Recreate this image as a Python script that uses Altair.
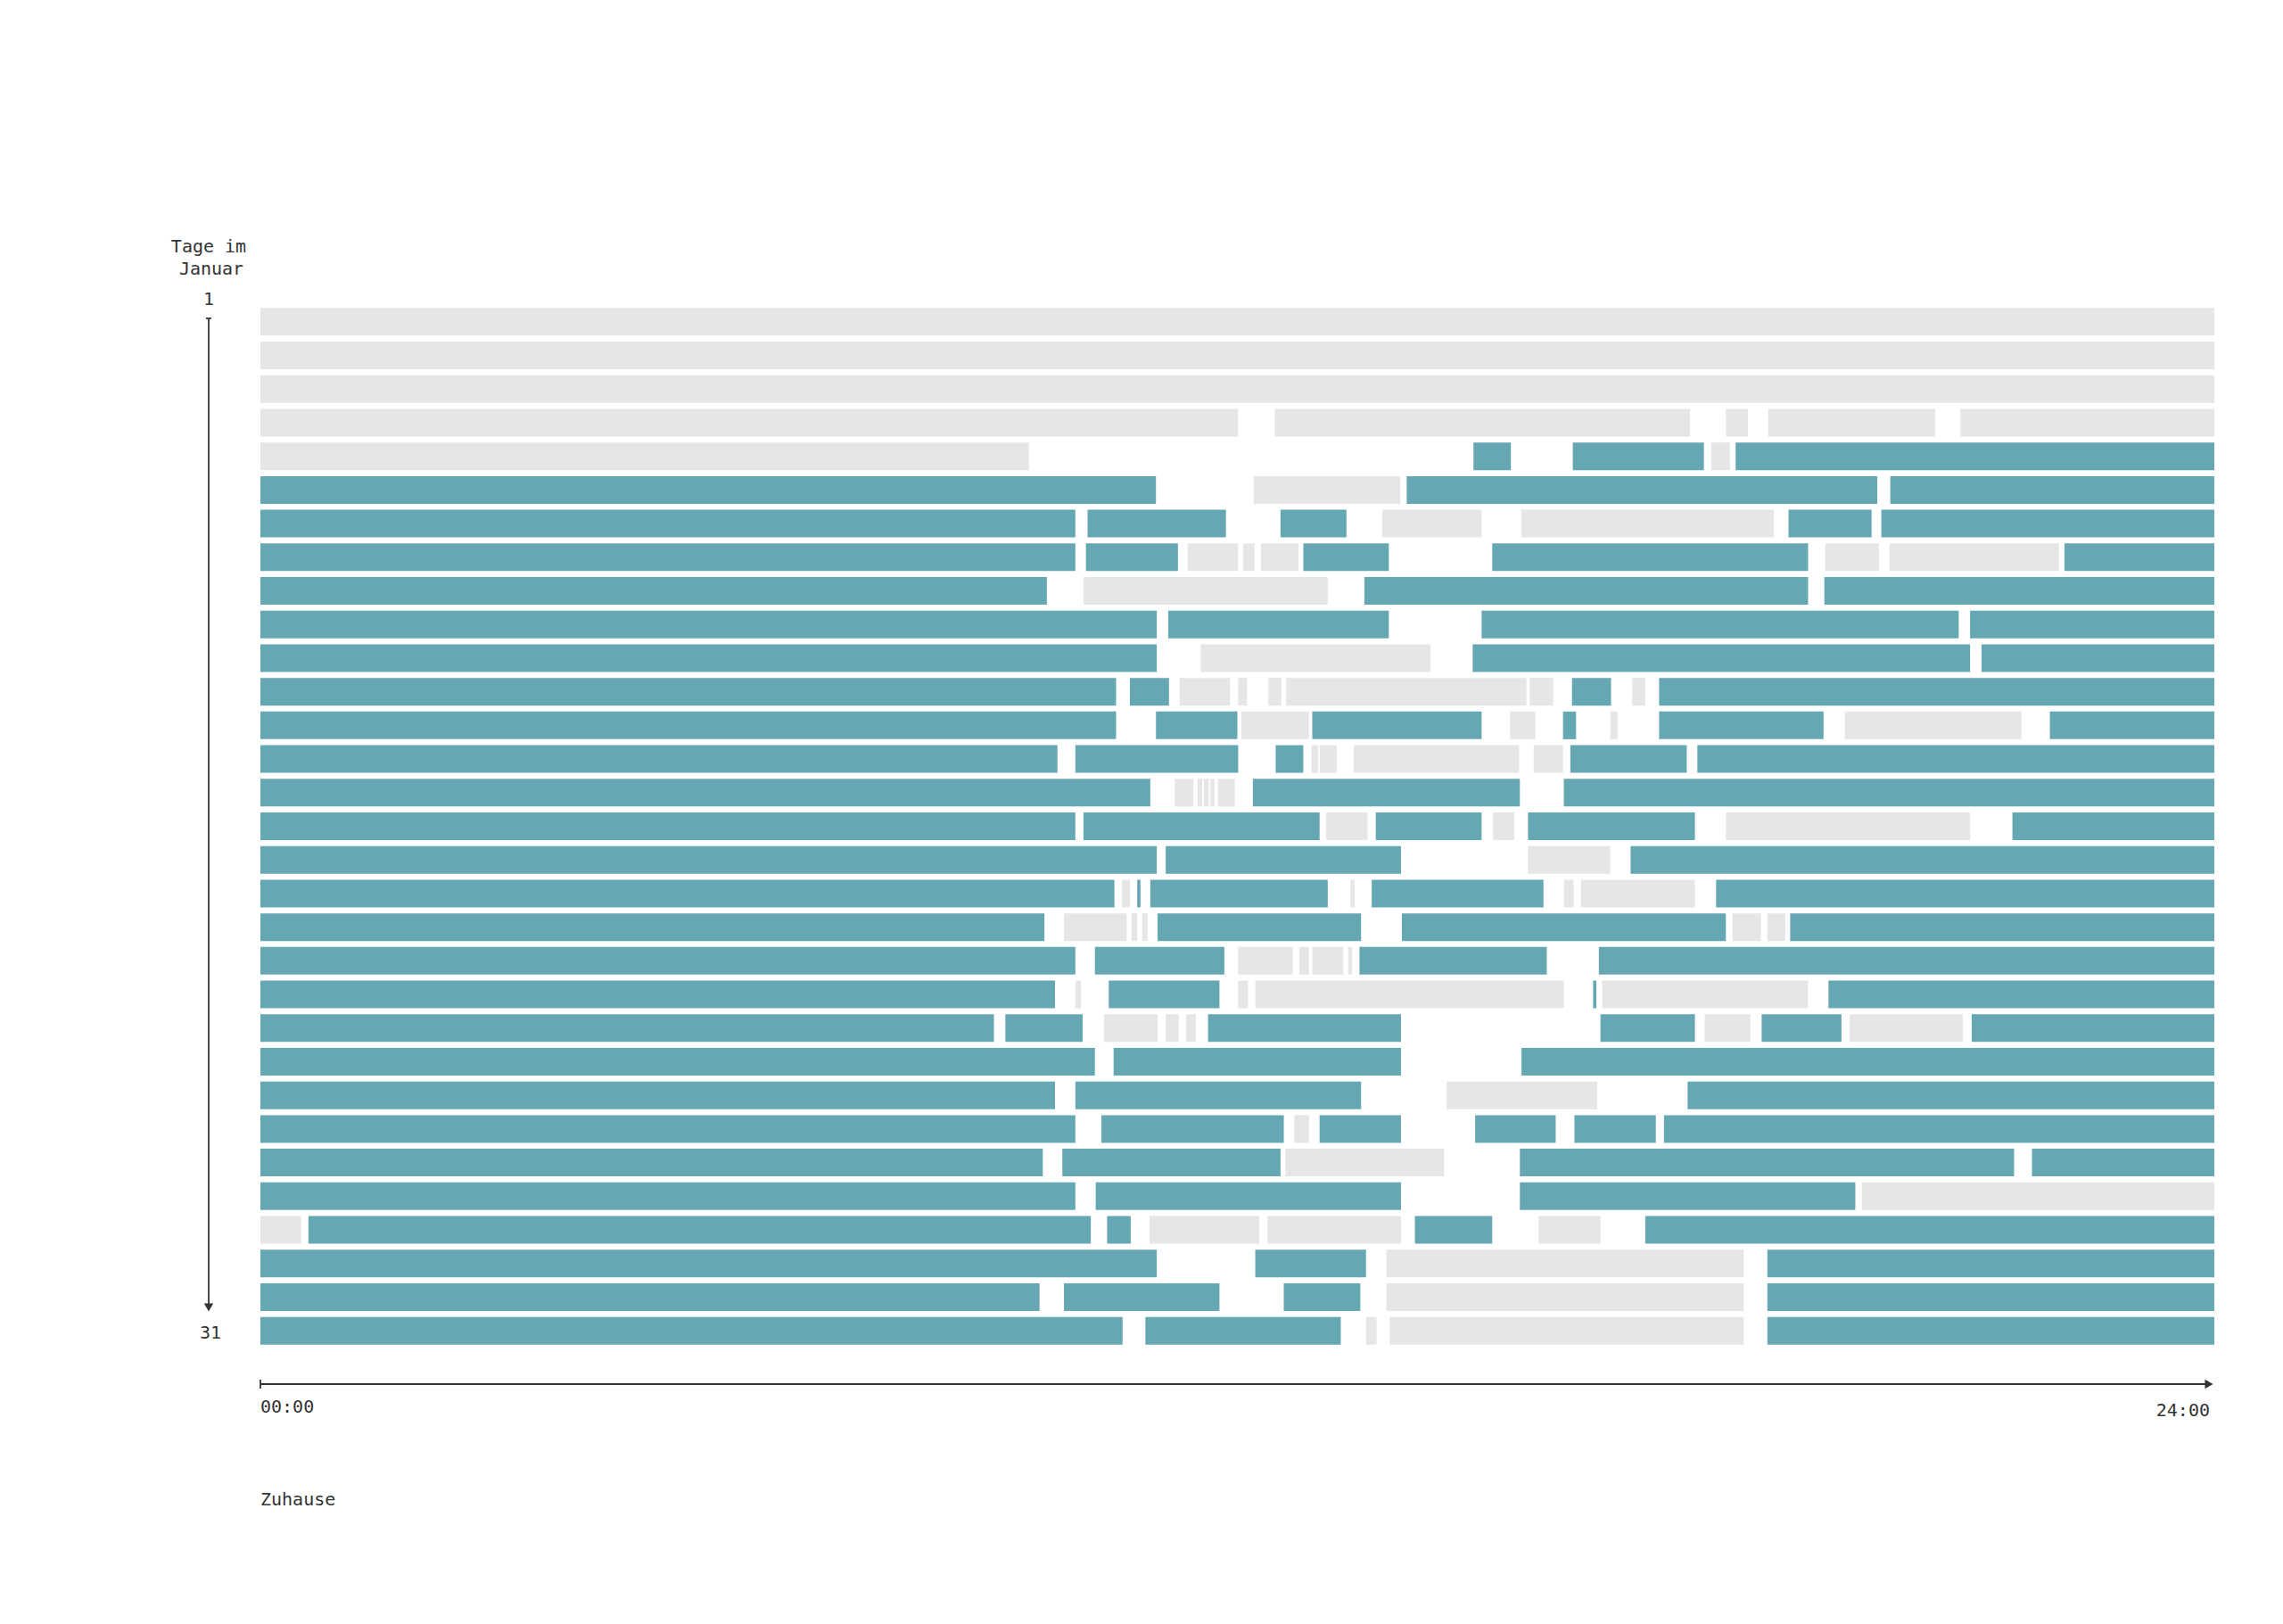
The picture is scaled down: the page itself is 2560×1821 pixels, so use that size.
import altair as alt
import pandas as pd

# ---- data: segments per day (start hour, end hour, place) ----
# Z = Zuhause (teal), A = anderswo (grey)
d01 = [(0, 24, "A")]
d02 = [(0, 24, "A")]
d03 = [(0, 24, "A")]
d04 = [(0, 12.01, "A"), (12.46, 17.56, "A"), (18.0, 18.27, "A"), (18.52, 20.57, "A"), (20.88, 24, "A")]
d05 = [(0, 9.44, "A"), (14.90, 15.36, "Z"), (16.12, 17.73, "Z"), (17.82, 18.05, "A"), (18.12, 24, "Z")]
d06 = [(0, 11.0, "Z"), (12.20, 14.0, "A"), (14.08, 19.86, "Z"), (20.02, 24, "Z")]
d07 = [(0, 10.01, "Z"), (10.16, 11.86, "Z"), (12.53, 13.34, "Z"), (13.78, 15.0, "A"), (15.49, 18.59, "A"),
       (18.77, 19.79, "Z"), (19.91, 24, "Z")]
d08 = [(0, 10.01, "Z"), (10.14, 11.27, "Z"), (11.39, 12.01, "A"), (12.07, 12.21, "A"), (12.29, 12.75, "A"),
       (12.81, 13.86, "Z"), (15.13, 19.01, "Z"), (19.22, 19.88, "A"), (20.01, 22.09, "A"), (22.16, 24, "Z")]
d09 = [(0, 9.66, "Z"), (10.11, 13.11, "A"), (13.56, 19.01, "Z"), (19.21, 24, "Z")]
d10 = [(0, 11.01, "Z"), (11.15, 13.86, "Z"), (15.0, 20.86, "Z"), (21.0, 24, "Z")]
d11 = [(0, 11.01, "Z"), (11.55, 14.37, "A"), (14.89, 21.0, "Z"), (21.14, 24, "Z")]
d12 = [(0, 10.51, "Z"), (10.68, 11.16, "Z"), (11.29, 11.91, "A"), (12.01, 12.12, "A"), (12.38, 12.54, "A"),
       (12.60, 15.55, "A"), (15.59, 15.88, "A"), (16.11, 16.59, "Z"), (16.85, 17.01, "A"), (17.18, 24, "Z")]
d13 = [(0, 10.51, "Z"), (11.0, 12.0, "Z"), (12.05, 12.88, "A"), (12.92, 15.0, "Z"), (15.35, 15.66, "A"),
       (16.0, 16.16, "Z"), (16.58, 16.67, "A"), (17.18, 19.2, "Z"), (19.46, 21.63, "A"), (21.98, 24, "Z")]
d14 = [(0, 9.79, "Z"), (10.01, 12.01, "Z"), (12.47, 12.81, "Z"), (12.91, 12.99, "A"), (13.01, 13.22, "A"),
       (13.43, 15.46, "A"), (15.64, 16.0, "A"), (16.09, 17.52, "Z"), (17.65, 24, "Z")]
d15 = [(0, 10.93, "Z"), (11.23, 11.46, "A"), (11.51, 11.57, "A"), (11.59, 11.65, "A"), (11.67, 11.72, "A"),
       (11.76, 11.97, "A"), (12.19, 15.47, "Z"), (16.01, 24, "Z")]
d16 = [(0, 10.01, "Z"), (10.11, 13.01, "Z"), (13.09, 13.6, "A"), (13.70, 15.0, "Z"), (15.14, 15.40, "A"),
       (15.57, 17.62, "Z"), (18.0, 21.0, "A"), (21.52, 24, "Z")]
d17 = [(0, 11.01, "Z"), (11.12, 14.01, "Z"), (15.57, 16.58, "A"), (16.83, 24, "Z")]
d18 = [(0, 10.49, "Z"), (10.58, 10.68, "A"), (10.77, 10.81, "Z"), (10.93, 13.11, "Z"), (13.39, 13.44, "A"),
       (13.65, 15.76, "Z"), (16.01, 16.13, "A"), (16.22, 17.62, "A"), (17.88, 24, "Z")]
d19 = [(0, 9.63, "Z"), (9.87, 10.64, "A"), (10.70, 10.77, "A"), (10.83, 10.90, "A"), (11.02, 13.52, "Z"),
       (14.02, 18.0, "Z"), (18.08, 18.43, "A"), (18.51, 18.73, "A"), (18.79, 24, "Z")]
d20 = [(0, 10.01, "Z"), (10.25, 11.84, "Z"), (12.01, 12.68, "A"), (12.76, 12.88, "A"), (12.92, 13.30, "A"),
       (13.36, 13.41, "A"), (13.50, 15.80, "Z"), (16.44, 24, "Z")]
d21 = [(0, 9.76, "Z"), (10.01, 10.08, "A"), (10.42, 11.78, "Z"), (12.01, 12.13, "A"), (12.22, 16.01, "A"),
       (16.37, 16.41, "Z"), (16.48, 19.01, "A"), (19.26, 24, "Z")]
d22 = [(0, 9.01, "Z"), (9.15, 10.10, "Z"), (10.36, 11.02, "A"), (11.12, 11.28, "A"), (11.37, 11.49, "A"),
       (11.64, 14.01, "Z"), (16.46, 17.62, "Z"), (17.74, 18.30, "A"), (18.44, 19.42, "Z"), (19.52, 20.91, "A"),
       (21.02, 24, "Z")]
d23 = [(0, 10.25, "Z"), (10.48, 14.01, "Z"), (15.49, 24, "Z")]
d24 = [(0, 9.76, "Z"), (10.01, 13.52, "Z"), (14.57, 16.42, "A"), (17.53, 24, "Z")]
d25 = [(0, 10.01, "Z"), (10.33, 12.57, "Z"), (12.70, 12.88, "A"), (13.01, 14.01, "Z"), (14.92, 15.91, "Z"),
       (16.14, 17.14, "Z"), (17.24, 24, "Z")]
d26 = [(0, 9.61, "Z"), (9.85, 12.53, "Z"), (12.59, 14.54, "A"), (15.47, 21.54, "Z"), (21.76, 24, "Z")]
d27 = [(0, 10.01, "Z"), (10.26, 14.01, "Z"), (15.47, 19.59, "Z"), (19.67, 24, "A")]
d28 = [(0, 0.50, "A"), (0.59, 10.20, "Z"), (10.40, 10.69, "Z"), (10.92, 12.27, "A"), (12.37, 14.01, "A"),
       (14.18, 15.13, "Z"), (15.70, 16.46, "A"), (17.01, 24, "Z")]
d29 = [(0, 11.01, "Z"), (12.22, 13.58, "Z"), (13.83, 18.22, "A"), (18.51, 24, "Z")]
d30 = [(0, 9.57, "Z"), (9.87, 11.78, "Z"), (12.57, 13.51, "Z"), (13.83, 18.22, "A"), (18.51, 24, "Z")]
d31 = [(0, 10.59, "Z"), (10.87, 13.27, "Z"), (13.58, 13.71, "A"), (13.87, 18.22, "A"), (18.51, 24, "Z")]

days = [d01, d02, d03, d04, d05, d06, d07, d08, d09, d10, d11, d12, d13, d14, d15, d16,
        d17, d18, d19, d20, d21, d22, d23, d24, d25, d26, d27, d28, d29, d30, d31]

place_names = {"Z": "Zuhause", "A": "Anderswo"}
x_labels = ["00:00", "24:00"]
y_title = ["Tage im", "Januar"]
y_labels = ["1", "31"]

rows = []
for i, segs in enumerate(days, start=1):
    for s, e, p in segs:
        rows.append({"day": i, "start": s, "end": e, "place": place_names[p]})
df = pd.DataFrame(rows)

TEAL = "#66a7b4"
GREY = "#e5e6e8"
INK = "#333333"
FONT = "DejaVu Sans Mono"

W = 2191
H = 1169

bars = alt.Chart(df).mark_bar(cornerRadius=0, strokeWidth=0).encode(
    x=alt.X("start:Q", scale=alt.Scale(domain=[0, 24], nice=False, zero=False), axis=None),
    x2="end:Q",
    y=alt.Y("day:O", scale=alt.Scale(paddingInner=0.178, paddingOuter=0.089), axis=None),
    color=alt.Color("place:N", scale=alt.Scale(domain=["Zuhause", "Anderswo"], range=[TEAL, GREY]),
                    legend=None),
)

one = pd.DataFrame({"k": [0]})
base = alt.Chart(one)

# y axis (arrow downward)
y_line = base.mark_rule(color=INK, strokeWidth=1.8).encode(
    x=alt.value(-58), y=alt.value(15), y2=alt.value(1122))
y_cap = base.mark_rule(color=INK, strokeWidth=1.8).encode(
    x=alt.value(-61), x2=alt.value(-55), y=alt.value(15))
y_arrow = base.mark_point(shape="triangle-down", filled=True, color=INK, size=110, opacity=1).encode(
    x=alt.value(-58), y=alt.value(1124))

# x axis (arrow right)
x_line = base.mark_rule(color=INK, strokeWidth=1.8).encode(
    x=alt.value(0), x2=alt.value(2182), y=alt.value(1210))
x_cap = base.mark_rule(color=INK, strokeWidth=1.8).encode(
    x=alt.value(0), y=alt.value(1205), y2=alt.value(1215))
x_arrow = base.mark_point(shape="triangle-right", filled=True, color=INK, size=110, opacity=1).encode(
    x=alt.value(2185), y=alt.value(1210))

def txt(s, x, y, align="left"):
    return alt.Chart(pd.DataFrame({"t": [s]})).mark_text(
        font=FONT, fontSize=20, color=INK, align=align, baseline="middle"
    ).encode(text="t:N", x=alt.value(x), y=alt.value(y))

texts = [
    txt(y_title[0], -58, -65, "center"),
    txt(y_title[1], -55, -40, "center"),
    txt(y_labels[0], -58, -6, "center"),
    txt(y_labels[1], -56, 1153, "center"),
    txt(x_labels[0], 0, 1236, "left"),
    txt(x_labels[1], 2186, 1240, "right"),
    txt("Zuhause", 0, 1340, "left"),
]

chart = alt.layer(bars, y_line, y_cap, y_arrow, x_line, x_cap, x_arrow, *texts).properties(
    width=W,
    height=H,
    autosize=alt.AutoSizeParams(type="none"),
    padding={"left": 284, "top": 334, "right": 60, "bottom": 300},
    background="white",
).configure_view(stroke=None)

chart.save("out.html", embed_options={"renderer": "svg", "actions": False})
